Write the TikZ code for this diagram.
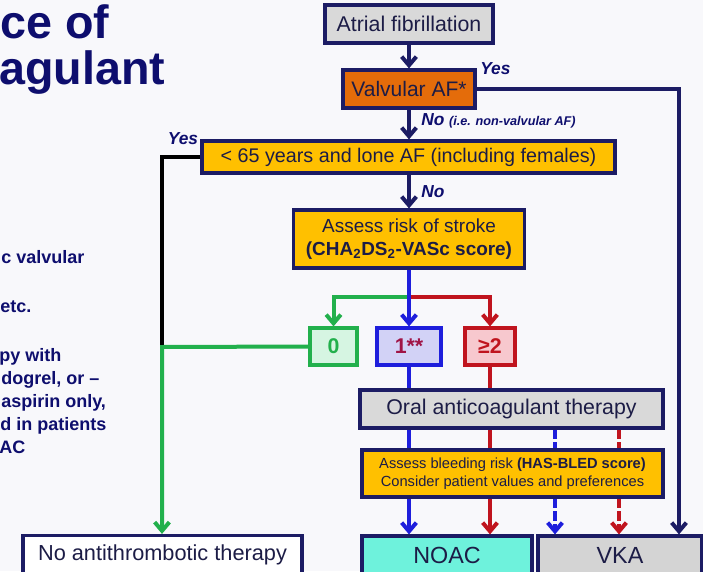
\documentclass[tikz,border=0pt]{standalone}
\usepackage{fontspec}
\setmainfont{Liberation Sans}
\usetikzlibrary{arrows.meta}
\definecolor{bgc}{RGB}{248,248,251}
\definecolor{navyb}{RGB}{28,28,100}
\definecolor{titlec}{RGB}{14,14,110}
\definecolor{textc}{RGB}{28,28,70}
\definecolor{goldc}{RGB}{255,192,0}
\definecolor{orangec}{RGB}{228,108,10}
\definecolor{grayc}{RGB}{217,217,217}
\definecolor{greenL}{RGB}{34,176,76}
\definecolor{greenF}{RGB}{214,245,226}
\definecolor{blueL}{RGB}{30,30,220}
\definecolor{blueF}{RGB}{210,210,246}
\definecolor{redL}{RGB}{192,20,30}
\definecolor{redF}{RGB}{247,200,206}
\definecolor{maroonc}{RGB}{160,20,70}
\definecolor{noacF}{RGB}{110,242,220}
\definecolor{vkaF}{RGB}{212,212,212}
\begin{document}
\begin{tikzpicture}[x=0.75pt,y=-0.75pt,
  box/.style={draw=navyb,line width=2.4pt,inner sep=0pt,align=center,text=textc,font=\fontsize{16}{19}\selectfont},
  sbox/.style={line width=2.4pt,inner sep=0pt,align=center,font=\bfseries\fontsize{16}{19}\selectfont},
  ln/.style={line width=3pt},
  arr/.style={-{Straight Barb[length=6.5pt,width=11pt]}},
  lbl/.style={text=titlec,font=\bfseries\itshape\fontsize{13}{15}\selectfont,inner sep=0pt},
  lefttxt/.style={text=titlec,font=\bfseries\fontsize{13.5}{16}\selectfont,inner sep=0pt,anchor=base west},
  titletxt/.style={text=titlec,font=\bfseries\fontsize{35}{42}\selectfont,inner sep=0pt,anchor=base west},
  dsh/.style={dash pattern=on 7pt off 2.5pt}]
\useasboundingbox (0,0) rectangle (703,571);
\clip (0,0) rectangle (703,571);
\fill[bgc] (0,0) rectangle (703,571);

% title and left text
\node[titletxt] (t1) at (0,38) {ce of};
\node[titletxt] (t2) at (-1,84) {agulant};
\node[lefttxt] (l1) at (1,263) {c valvular};
\node[lefttxt] (l2) at (0,312) {etc.};
\node[lefttxt] (l3) at (-1,361) {py with};
\node[lefttxt] (l4) at (1,384) {dogrel, or –};
\node[lefttxt] (l5) at (1,407) {aspirin only,};
\node[lefttxt] (l6) at (0,430) {d in patients};
\node[lefttxt] (l7) at (-1,453) {AC};

% boxes
\node[box,fill=grayc,minimum width=126pt,minimum height=28.5pt] (af) at (409,24) {Atrial fibrillation};
\node[box,fill=orangec,minimum width=99pt,minimum height=28.5pt,font=\fontsize{15.75}{19}\selectfont] (valv) at (409,89) {Valvular AF*};
\node[box,fill=goldc,minimum width=309.75pt,minimum height=24pt,font=\fontsize{14.8}{18}\selectfont] (lt65) at (408.5,157) {< 65 years and lone AF (including females)};
\node[box,fill=goldc,minimum width=173.25pt,minimum height=43.5pt,font=\fontsize{14.2}{17.5}\selectfont] (risk) at (409,239) {Assess risk of stroke\\\textbf{(CHA\textsubscript{2}DS\textsubscript{2}-VASc score)}};
\node[sbox,draw=greenL,fill=greenF,text=greenL,minimum width=35.25pt,minimum height=27.75pt] (z0) at (333.5,346.5) {0};
\node[sbox,draw=blueL,fill=blueF,text=maroonc,minimum width=48pt,minimum height=27.75pt] (one) at (409,346.5) {1**};
\node[sbox,draw=redL,fill=redF,text=redL,minimum width=37.5pt,minimum height=27.75pt] (two) at (490,346.5) {≥2};
\node[box,fill=grayc,minimum width=227.25pt,minimum height=28.5pt] (oac) at (511.5,409) {Oral anticoagulant therapy};
\node[box,fill=goldc,minimum width=225.75pt,minimum height=35.25pt,font=\fontsize{11}{13.5}\selectfont] (bleed) at (512.5,473.5) {Assess bleeding risk \textbf{(HAS-BLED score)}\\Consider patient values and preferences};
\node[box,fill=noacF,minimum width=127.5pt,minimum height=28.5pt,font=\fontsize{17.5}{20}\selectfont] (noac) at (447,555) {NOAC};
\node[box,fill=vkaF,minimum width=123pt,minimum height=28.5pt,font=\fontsize{17.5}{20}\selectfont] (vka) at (620,555) {VKA};
\node[box,fill=white,minimum width=209.25pt,minimum height=28.5pt,font=\fontsize{16.3}{19}\selectfont] (noanti) at (162.5,554.5) {No antithrombotic therapy};

% labels
\node[lbl,anchor=west] (yes1) at (480,69) {Yes};
\node[lbl,anchor=west] (no1) at (421,121) {No {\fontsize{9.5}{11}\selectfont (i.e. non-valvular AF)}};
\node[lbl] (yes2) at (183,139) {Yes};
\node[lbl,anchor=west] (no2) at (421,192) {No};

% helper coordinates
\coordinate (br) at (409,297);
\coordinate (jn) at (162,347);
\coordinate (d1) at (555,0);
\coordinate (d2) at (619,0);
\coordinate (d3) at (679,0);

% connectors
\draw[navyb,ln,arr] (af.south) -- (valv.north);
\draw[navyb,ln,arr] (valv.south) -- (valv.south |- lt65.north);
\draw[navyb,ln,arr] (lt65.south -| af.south) -- (risk.north);
\draw[navyb,ln,arr] (valv.east) -| (vka.north -| d3);
\draw[black,ln] (lt65.west) -| (jn);
\draw[greenL,ln,arr] (z0.west) -- (jn) -- (noanti.north -| jn);
\draw[greenL,ln,arr] (br) -| (z0.north);
\draw[redL,ln,arr] (br) -| (two.north);
\draw[blueL,ln,arr] (risk.south) -- (one.north);
\draw[blueL,ln] (one.south) -- (one.south |- oac.north);
\draw[redL,ln] (two.south) -- (two.south |- oac.north);
\draw[blueL,ln] (oac.south -| one.south) -- (bleed.north -| one.south);
\draw[redL,ln] (oac.south -| two.south) -- (bleed.north -| two.south);
\draw[blueL,ln,dsh] (oac.south -| d1) -- (bleed.north -| d1);
\draw[redL,ln,dsh] (oac.south -| d2) -- (bleed.north -| d2);
\draw[blueL,ln,arr] (bleed.south -| one.south) -- (noac.north -| one.south);
\draw[redL,ln,arr] (bleed.south -| two.south) -- (noac.north -| two.south);
\draw[blueL,ln,dsh,arr] (bleed.south -| d1) -- (vka.north -| d1);
\draw[redL,ln,dsh,arr] (bleed.south -| d2) -- (vka.north -| d2);
\end{tikzpicture}
\end{document}
